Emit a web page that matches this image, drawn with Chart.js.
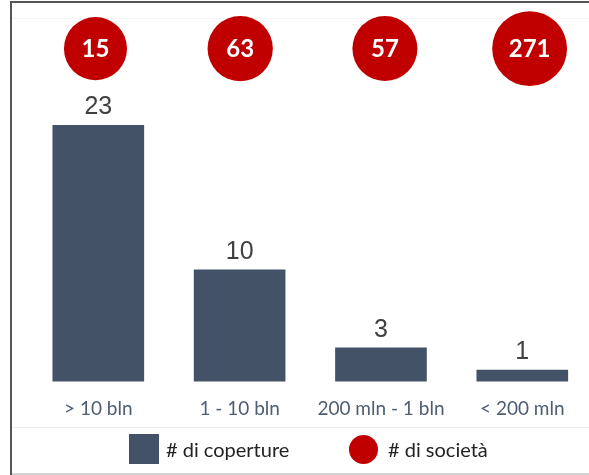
<!DOCTYPE html>
<html>
<head>
<meta charset="utf-8">
<script src="https://cdn.jsdelivr.net/npm/chart.js@4/dist/chart.umd.min.js"></script>
<style>
  html, body { margin: 0; padding: 0; background: #fff; }
  #wrap { position: relative; width: 589px; height: 475px; overflow: hidden; font-family: 'Lato', sans-serif; }
  #chart { position: absolute; left: 0; top: 0; }
  .line { position: absolute; }
  .legend { position: absolute; top: 434px; height: 30px; display: flex; align-items: center; font-size: 20px; color: #222; }
  .legend .box { width: 30px; height: 30px; background: #435266; margin-right: 7px; }
  .legend .dot { width: 29px; height: 29px; border-radius: 50%; background: #c00000; margin-right: 10px; }
</style>
</head>
<body>
<div id="wrap">
  <div class="line" style="left:12px;top:18px;width:577px;height:1px;background:#f4f4f4"></div>
  <div class="line" style="left:12px;top:427px;width:577px;height:1px;background:#efefef"></div>
  <div class="line" style="left:12px;top:473px;width:577px;height:2px;background:#d4d4d4"></div>
  <canvas id="chart" width="589" height="475"></canvas>
  <div class="line" style="left:10px;top:1px;width:2px;height:474px;background:#555"></div>
  <div class="line" style="left:10px;top:1px;width:579px;height:2px;background:#555"></div>
  <div class="legend" style="left:129px"><div class="box"></div><span id="lg1"></span></div>
  <div class="legend" style="left:349px"><div class="dot"></div><span id="lg2"></span></div>
</div>
<script>
// categorie e valori
var categorie = ['> 10 bln', '1 - 10 bln', '200 mln - 1 bln', '< 200 mln'];
var coperture = [23, 10, 3, 1];
var societa = [15, 63, 57, 271];
var nomeCoperture = '# di coperture';
var nomeSocieta = '# di società';

document.getElementById('lg1').textContent = nomeCoperture;
document.getElementById('lg2').textContent = nomeSocieta;

// raggio del cerchio in base al numero di società
function raggio(v) {
    return 31.2 + v * 0.023;
}

// etichette sopra le barre e dentro i cerchi
var etichette = {
    id: 'etichette',
    afterDatasetsDraw: function (chart) {
        var ctx = chart.ctx;
        ctx.save();
        ctx.textAlign = 'center';

        var bars = chart.getDatasetMeta(0).data;
        ctx.font = '25px "Liberation Sans", Arial, sans-serif';
        ctx.fillStyle = '#404040';
        ctx.textBaseline = 'alphabetic';
        bars.forEach(function (bar, i) {
            ctx.fillText(coperture[i], bar.x, bar.y - 11);
        });

        var dots = chart.getDatasetMeta(1).data;
        ctx.font = 'bold 24px Lato, sans-serif';
        ctx.fillStyle = '#ffffff';
        ctx.textBaseline = 'middle';
        dots.forEach(function (dot, i) {
            ctx.fillText(societa[i], dot.x, dot.y + 1);
        });
        ctx.restore();
    }
};

Chart.defaults.font.family = 'Lato, sans-serif';

new Chart(document.getElementById('chart'), {
    type: 'bar',
    data: {
        labels: categorie,
        datasets: [
            {
                label: nomeCoperture,
                data: coperture,
                backgroundColor: '#435266',
                barThickness: 91,
                grouped: false,
                clip: false,
                xAxisID: 'x',
                yAxisID: 'y'
            },
            {
                type: 'bubble',
                label: nomeSocieta,
                data: societa.map(function (v, i) { return { x: i, y: 0, r: raggio(v) }; }),
                backgroundColor: '#c00000',
                borderWidth: 0,
                clip: false,
                xAxisID: 'x2',
                yAxisID: 'yb'
            }
        ]
    },
    options: {
        responsive: false,
        animation: false,
        events: [],
        layout: {
            autoPadding: false,
            padding: { left: 98.3, right: 66.7, top: 5.3, bottom: 39 }
        },
        plugins: {
            legend: { display: false },
            tooltip: { enabled: false }
        },
        scales: {
            x: {
                type: 'category',
                offset: false,
                grid: { display: false, drawTicks: false, offset: false },
                border: { display: false },
                ticks: {
                    color: '#4d5e72',
                    font: { size: 19 },
                    padding: 16,
                    maxRotation: 0,
                    autoSkip: false
                }
            },
            x2: {
                type: 'linear',
                display: false,
                offset: false,
                min: 0.0194,
                max: 2.9494
            },
            y: {
                display: false,
                min: 0,
                max: 26,
                stack: 'colonna',
                stackWeight: 288.8
            },
            yb: {
                type: 'linear',
                display: false,
                offset: false,
                min: -1,
                max: 1,
                stack: 'colonna',
                stackWeight: 86.4
            }
        }
    },
    plugins: [etichette]
});
</script>
</body>
</html>
